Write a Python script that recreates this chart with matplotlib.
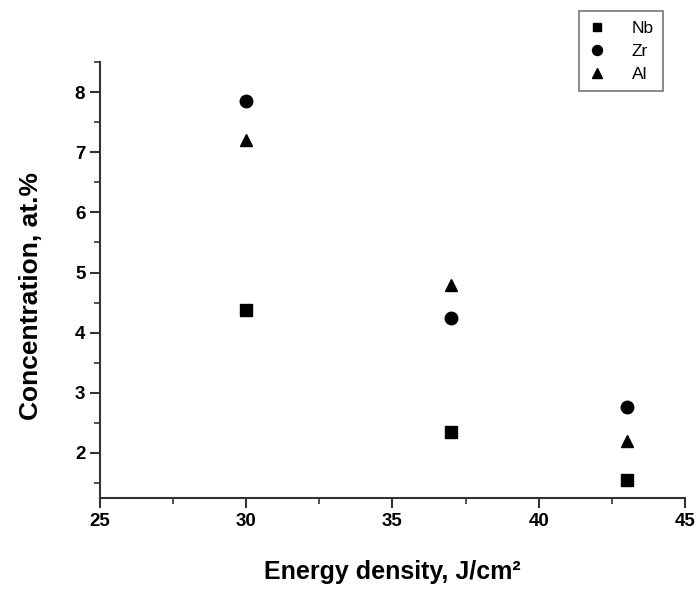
import matplotlib
matplotlib.use("Agg")
import matplotlib.pyplot as plt
from matplotlib.ticker import MultipleLocator

energy = [30, 37, 43]
nb = [4.38, 2.34, 1.55]
zr = [7.85, 4.24, 2.77]
al = [7.20, 4.80, 2.20]

plt.rcParams['font.family'] = ['Liberation Sans', 'DejaVu Sans']

fig = plt.figure(figsize=(6.99, 5.89), dpi=100)
ax = fig.add_axes([0.143, 0.1545, 0.837, 0.74])

ax.plot(energy, nb, 's', color='black', markersize=8, label='Nb')
ax.plot(energy, zr, 'o', color='black', markersize=9, label='Zr')
ax.plot(energy, al, '^', color='black', markersize=9, label='Al')

ax.set_xlim(25, 45)
ax.set_ylim(1.25, 8.5)
ax.xaxis.set_major_locator(MultipleLocator(5))
ax.xaxis.set_minor_locator(MultipleLocator(2.5))
ax.yaxis.set_major_locator(MultipleLocator(1))
ax.yaxis.set_minor_locator(MultipleLocator(0.5))
ax.set_yticks([2, 3, 4, 5, 6, 7, 8])

for s in ['top', 'right']:
    ax.spines[s].set_visible(False)
for s in ['left', 'bottom']:
    ax.spines[s].set_linewidth(1.5)
    ax.spines[s].set_color('#333333')

ax.tick_params(which='major', direction='out', length=7, width=1.5, color='#333333',
               labelsize=13.5)
ax.tick_params(which='minor', direction='out', length=4, width=1.2, color='#333333')
for lbl in ax.get_xticklabels() + ax.get_yticklabels():
    lbl.set_fontweight('bold')

ax.set_xlabel('Energy density, J/cm\u00b2', fontsize=18, fontweight='bold', labelpad=22)
ax.set_ylabel('Concentration, at.%', fontsize=19, fontweight='bold', labelpad=23)
ax.yaxis.label.set_y(0.463)

leg = fig.legend(loc='upper left', bbox_to_anchor=(0.828, 0.981), frameon=True,
                 fancybox=False, edgecolor='#555555', fontsize=12.5,
                 handlelength=1.0, handletextpad=1.5, borderpad=0.55,
                 borderaxespad=0, labelspacing=0.45, markerscale=0.8)
leg.get_frame().set_linewidth(1.2)

fig.savefig('out.png', dpi=100)
